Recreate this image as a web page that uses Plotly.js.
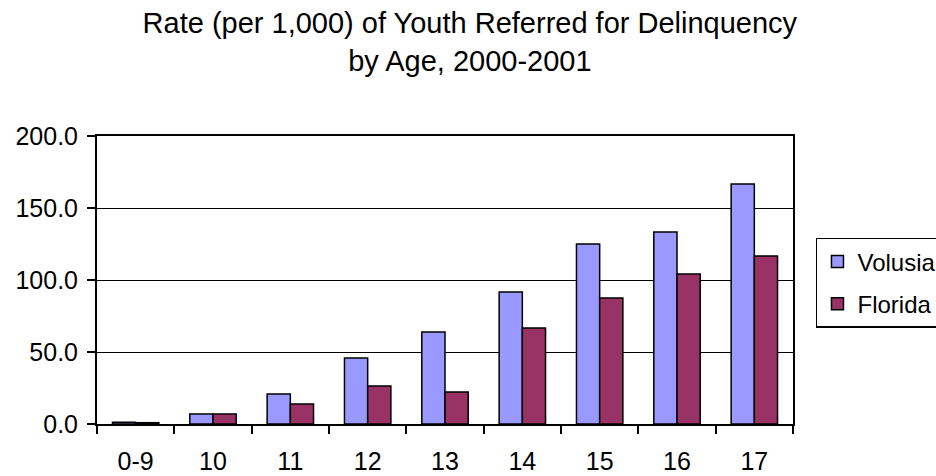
<!DOCTYPE html>
<html>
<head>
<meta charset="utf-8">
<script src="https://cdn.plot.ly/plotly-3.0.1.min.js"></script>
<style>html,body{margin:0;padding:0;background:#fff;overflow:hidden;}#chart{width:936px;height:476px;}</style>
</head>
<body>
<div id="chart"></div>
<script>
const ages = ["0-9", "10", "11", "12", "13", "14", "15", "16", "17"];
const volusia = [1.2, 6.9, 20.8, 45.8, 63.9, 91.7, 125.0, 133.3, 166.7];
const florida = [0.9, 6.9, 13.9, 26.4, 22.2, 66.7, 87.5, 104.2, 116.7];
const yTicks = [0, 50, 100, 150, 200];

const FONT = "Liberation Sans, Arial, sans-serif";

const traces = [
  {type: "bar", name: "Volusia", x: ages, y: volusia, legendgroup: "v",
   marker: {color: "#9999FF", line: {color: "#000", width: 1.5}}},
  {type: "bar", name: "Florida", x: ages, y: florida, legendgroup: "f",
   marker: {color: "#993366", line: {color: "#000", width: 1.5}}}
];

const layout = {
  width: 936, height: 476,
  margin: {l: 97, r: 143, t: 136, b: 52, autoexpand: false},
  paper_bgcolor: "#fff", plot_bgcolor: "#fff",
  font: {family: FONT, size: 25, color: "#000"},
  title: {text: "Rate (per 1,000) of Youth Referred for Delinquency<br>by Age, 2000-2001",
          x: 0.502, xanchor: "center", yref: "container", y: 0.93, yanchor: "top",
          font: {family: FONT, size: 29, color: "#000"}},
  barmode: "group", bargap: 0.4, bargroupgap: 0,
  showlegend: true,
  legend: {x: 1.033, xanchor: "left", y: 0.646, yanchor: "top",
           bordercolor: "#000", borderwidth: 1.5, bgcolor: "#fff",
           font: {family: FONT, size: 24, color: "#000"},
           traceorder: "grouped", tracegroupgap: 8, itemwidth: 30},
  xaxis: {type: "category", showline: true, linecolor: "#000", linewidth: 2, mirror: true,
          ticks: "outside", tickson: "boundaries", ticklen: 8, tickwidth: 2, tickcolor: "#000",
          showgrid: false, ticklabelstandoff: 14, fixedrange: true},
  yaxis: {range: [0, 200], tickvals: yTicks, tickformat: ".1f",
          showline: true, linecolor: "#000", linewidth: 2, mirror: true,
          ticks: "outside", ticklen: 8, tickwidth: 2, tickcolor: "#000",
          showgrid: true, gridcolor: "#000", gridwidth: 1, zeroline: false,
          ticklabelstandoff: 4, fixedrange: true}
};

Plotly.newPlot("chart", traces, layout, {displayModeBar: false, staticPlot: true});
</script>
</body>
</html>
